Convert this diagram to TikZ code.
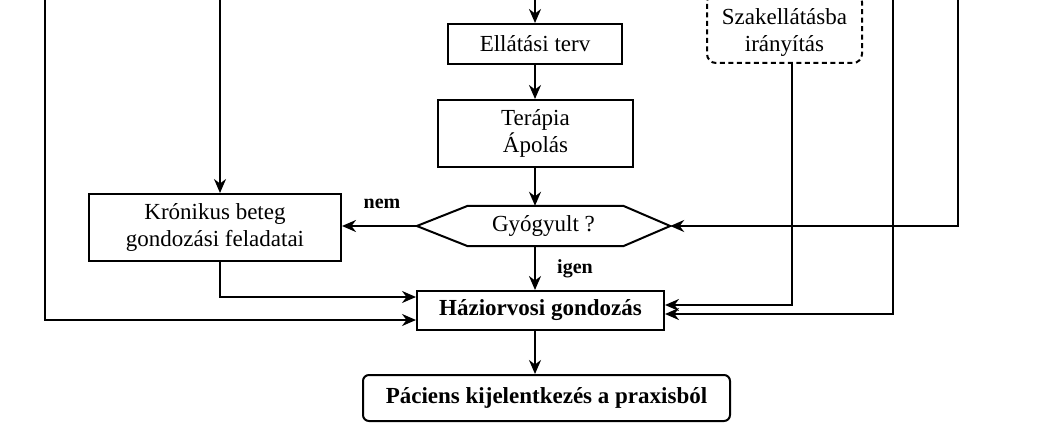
\documentclass[tikz,border=0pt]{standalone}
\usepackage{fontspec}
\setmainfont{Liberation Serif}
\usetikzlibrary{arrows.meta}

\begin{document}
\begin{tikzpicture}[x=1pt,y=-1pt,
  box/.style={draw, line width=2pt, align=center, inner sep=0pt, font=\fontsize{23}{27}\selectfont},
  arr/.style={line width=2pt, -{Stealth[length=14pt,width=12pt]}},
  lbl/.style={font=\fontsize{20}{22}\selectfont\bfseries}]
\useasboundingbox (0,0) rectangle (1055,428);
\clip (0,0) rectangle (1055,428);

\node[box, minimum width=174pt, minimum height=40pt] (ell) at (535,44) {Ellátási terv};
\node[box, minimum width=195pt, minimum height=67pt] (ter) at (535.5,133.5) {Terápia\\Ápolás};
\node[font=\fontsize{23}{27}\selectfont, inner sep=0pt, minimum width=253pt, minimum height=40pt] (gyo) at (543.5,226) {Gyógyult ?};
\draw[line width=2pt] (gyo.west) -- ([xshift=51pt]gyo.north west) -- ([xshift=-47pt]gyo.north east)
  -- (gyo.east) -- ([xshift=-47pt]gyo.south east) -- ([xshift=51pt]gyo.south west) -- cycle;
\node[box, minimum width=252pt, minimum height=67pt] (kro) at (215,227.5) {Krónikus beteg\\gondozási feladatai};
\node[box, minimum width=247pt, minimum height=39pt, font=\fontsize{23}{27}\selectfont\bfseries] (haz) at (540.5,310.5) {Háziorvosi gondozás};
\node[box, rounded corners=6pt, minimum width=367pt, minimum height=46pt, font=\fontsize{23}{27}\selectfont\bfseries] (pac) at (546.5,398) {Páciens kijelentkezés a praxisból};
\node[box, dashed, dash pattern=on 5pt off 3.5pt, rounded corners=9pt, minimum width=155pt, minimum height=70pt,
  text height=52pt, text depth=5pt] (sza) at (784.5,28) {Szakellátásba\\irányítás};

\coordinate (inE) at (535,-10);
\coordinate (inK) at (220,-10);
\coordinate (inL) at (45,-10);
\coordinate (inR) at (893,-10);
\coordinate (inG) at (958,-10);

\draw[arr] (inE) -- (ell.north);
\draw[arr] (ell.south) -- (ell.south |- ter.north);
\draw[arr] (ter.south -| ell.south) -- (gyo.north -| ell.south);
\draw[arr] (gyo.south -| ell.south) -- (haz.north -| ell.south);
\draw[arr] (haz.south -| ell.south) -- (pac.north -| ell.south);
\draw[arr] (gyo.west) -- (gyo.west -| kro.east);
\draw[arr] (inK) -- (inK |- kro.north);
\draw[arr] ([xshift=5pt]kro.south) |- ([yshift=13.5pt]haz.west);
\draw[arr] (inL) |- ([yshift=-9.5pt]haz.west);
\draw[arr] ([xshift=7.5pt]sza.south) |- ([yshift=5.5pt]haz.east);
\draw[arr] (inR) |- ([yshift=-3.5pt]haz.east);
\draw[arr] (inG) |- (gyo.east);

\node[lbl] (nem) at (382,204) {nem};
\node[lbl] (igen) at (575,269) {igen};
\end{tikzpicture}
\end{document}
